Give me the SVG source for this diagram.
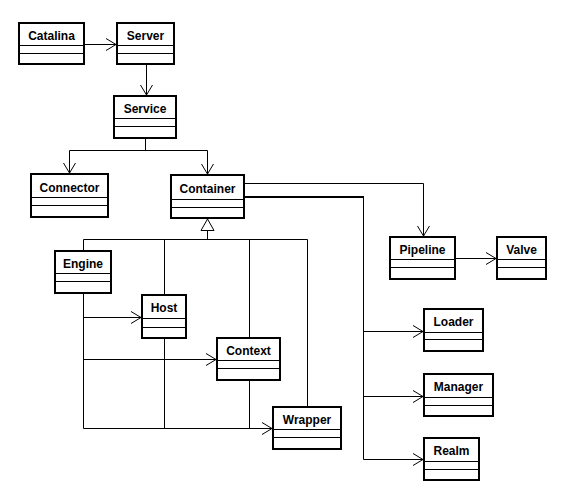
<svg xmlns="http://www.w3.org/2000/svg" width="566" height="503" viewBox="0 0 566 503">
<style>
.box{fill:#fff;stroke:#000;stroke-width:2}
.div{stroke:#000;stroke-width:1}
.lbl{font-family:"Liberation Sans",Arial,sans-serif;font-weight:bold;font-size:12px;text-anchor:middle;fill:#000}
.c{fill:none;stroke:#000;stroke-width:1}
.a{marker-end:url(#arr)}
</style>
<defs>
<marker id="arr" markerUnits="userSpaceOnUse" markerWidth="12" markerHeight="14" viewBox="0 0 12 14" refX="11" refY="7" orient="auto">
<path d="M1,1 L11,7 L1,13" fill="none" stroke="#000" stroke-width="1"/>
</marker>
</defs>
<rect width="566" height="503" fill="#fff"/>
<g id="connectors">
<path class="c a" d="M85,44.5 H116"/>
<path class="c a" d="M146.5,65 V95"/>
<path class="c" d="M145.5,139 V150.5 M69.5,150.5 H207.5"/>
<path class="c a" d="M69.5,150.5 V173"/>
<path class="c a" d="M207.5,150.5 V174"/>
<path class="c" d="M207.5,230.5 V239.5 M83.5,239.5 H307.5 M83.5,239.5 V250 M164.5,239.5 V294 M249.5,239.5 V337 M307.5,239.5 V406"/>
<polygon points="207.5,219 201,230.5 214,230.5" fill="#fff" stroke="#000" stroke-width="1"/>
<path class="c" d="M83.5,294 V428.5 M164.5,339 V428.5 M249.5,381 V428.5"/>
<path class="c a" d="M83.5,317.5 H141"/>
<path class="c a" d="M83.5,359.5 H216"/>
<path class="c a" d="M83.5,428.5 H272"/>
<path class="c a" d="M245,183.5 H423.5 V236"/>
<path d="M245,197 H364" fill="none" stroke="#000" stroke-width="2"/>
<path class="c" d="M363.5,196 V459.5"/>
<path class="c a" d="M363.5,331.5 H423"/>
<path class="c a" d="M363.5,396.5 H423"/>
<path class="c a" d="M363.5,459.5 H423"/>
<path class="c a" d="M456,258.5 H496"/>
</g>
<g id="Catalina"><rect class="box" x="19" y="23" width="65" height="41"/><path class="div" d="M19,45.5 H84 M19,53.5 H84"/><text class="lbl" x="51.5" y="40">Catalina</text></g>
<g id="Server"><rect class="box" x="117" y="23" width="57" height="41"/><path class="div" d="M117,45.5 H174 M117,53.5 H174"/><text class="lbl" x="145.5" y="40">Server</text></g>
<g id="Service"><rect class="box" x="114" y="96" width="62" height="42"/><path class="div" d="M114,118.5 H176 M114,126.5 H176"/><text class="lbl" x="145" y="113">Service</text></g>
<g id="Connector"><rect class="box" x="31" y="174" width="77" height="43"/><path class="div" d="M31,197.5 H108 M31,205.5 H108"/><text class="lbl" x="69.5" y="192">Connector</text></g>
<g id="Container"><rect class="box" x="171" y="175" width="73" height="43"/><path class="div" d="M171,199.5 H244 M171,207.5 H244"/><text class="lbl" x="207.5" y="193">Container</text></g>
<g id="Engine"><rect class="box" x="55" y="251" width="56" height="42"/><path class="div" d="M55,273.5 H111 M55,281.5 H111"/><text class="lbl" x="83" y="268">Engine</text></g>
<g id="Host"><rect class="box" x="142" y="295" width="44" height="43"/><path class="div" d="M142,318.5 H186 M142,327.5 H186"/><text class="lbl" x="164" y="312">Host</text></g>
<g id="Context"><rect class="box" x="217" y="338" width="63" height="42"/><path class="div" d="M217,360.5 H280 M217,368.5 H280"/><text class="lbl" x="248.5" y="355">Context</text></g>
<g id="Wrapper"><rect class="box" x="273" y="407" width="68" height="42"/><path class="div" d="M273,429.5 H341 M273,437.5 H341"/><text class="lbl" x="307" y="424">Wrapper</text></g>
<g id="Pipeline"><rect class="box" x="390" y="237" width="65" height="42"/><path class="div" d="M390,259.5 H455 M390,267.5 H455"/><text class="lbl" x="422.5" y="254">Pipeline</text></g>
<g id="Valve"><rect class="box" x="497" y="237" width="49" height="42"/><path class="div" d="M497,259.5 H546 M497,267.5 H546"/><text class="lbl" x="521.5" y="254">Valve</text></g>
<g id="Loader"><rect class="box" x="424" y="309" width="59" height="42"/><path class="div" d="M424,332.5 H483 M424,339.5 H483"/><text class="lbl" x="453.5" y="326">Loader</text></g>
<g id="Manager"><rect class="box" x="424" y="374" width="69" height="42"/><path class="div" d="M424,397.5 H493 M424,405.5 H493"/><text class="lbl" x="458.5" y="391">Manager</text></g>
<g id="Realm"><rect class="box" x="424" y="438" width="55" height="42"/><path class="div" d="M424,461.5 H479 M424,469.5 H479"/><text class="lbl" x="451.5" y="455">Realm</text></g>
</svg>
